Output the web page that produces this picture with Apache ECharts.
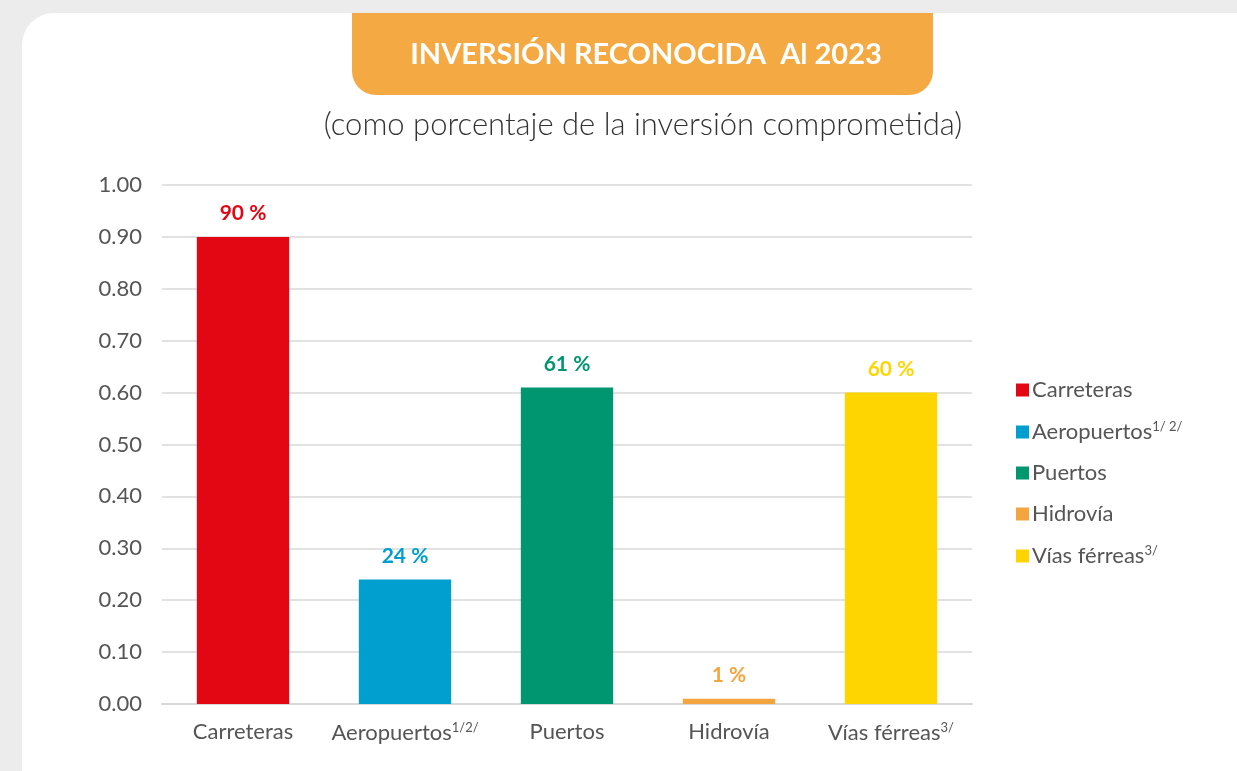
<!DOCTYPE html>
<html>
<head>
<meta charset="utf-8">
<title>Inversión reconocida</title>
<script src="https://cdn.jsdelivr.net/npm/echarts@6/dist/echarts.min.js"></script>
<style>
  html, body { margin: 0; padding: 0; background: #ececec; }
  #main { width: 1237px; height: 771px; }
</style>
</head>
<body>
<div id="main"></div>
<script>
// datos
var categories = ['Carreteras', 'Aeropuertos', 'Puertos', 'Hidrovía', 'Vías férreas'];
var axisSup = ['', '1/2/', '', '', '3/'];
var legendSup = ['', '1/ 2/', '', '', '3/'];
var values = [0.90, 0.24, 0.61, 0.01, 0.60];
var pctLabels = ['90 %', '24 %', '61 %', '1 %', '60 %'];
var colors = ['#e30613', '#009fcf', '#009670', '#f5a540', '#ffd500'];
var yTicks = [0, 0.1, 0.2, 0.3, 0.4, 0.5, 0.6, 0.7, 0.8, 0.9, 1.0];

var font = 'Lato';
var chart = echarts.init(document.getElementById('main'));

var supStyle = { fontSize: 13, verticalAlign: 'top', padding: [0, 0, 11, 0], color: '#555555', fontFamily: font };

var series = categories.map(function (name, i) {
  var data = categories.map(function (c, j) { return j === i ? values[i] : null; });
  return {
    name: name,
    type: 'bar',
    stack: 'a',
    barWidth: '57%',
    itemStyle: { color: colors[i] },
    label: {
      show: true,
      position: 'top',
      distance: 13,
      color: colors[i],
      fontFamily: font,
      fontWeight: 'bold',
      fontSize: 21,
      formatter: function () { return pctLabels[i]; }
    },
    data: data
  };
});

var option = {
  backgroundColor: '#ececec',
  animation: false,
  graphic: [
    { type: 'rect', z: -10, shape: { x: 22, y: 13, width: 1260, height: 800, r: 32 }, style: { fill: '#ffffff' } },
    { type: 'rect', z: -5, shape: { x: 352, y: 13, width: 581, height: 82, r: [0, 0, 24, 24] }, style: { fill: '#f5a942' } },
    { type: 'text', z: 5, x: 646, y: 55,
      style: { text: 'INVERSIÓN RECONOCIDA  Al 2023', fill: '#ffffff', font: 'bold 29px ' + font, align: 'center', verticalAlign: 'middle' } },
    { type: 'text', z: 5, x: 643, y: 125,
      style: { text: '(como porcentaje de la inversión comprometida)', fill: '#333333', font: '300 31px ' + font, align: 'center', verticalAlign: 'middle' } }
  ],
  legend: {
    orient: 'vertical',
    left: 1011,
    top: 374,
    itemWidth: 13,
    itemHeight: 13,
    itemGap: 19,
    itemStyle: { borderWidth: 0 },
    icon: 'rect',
    data: categories,
    formatter: function (name) {
      var i = categories.indexOf(name);
      return legendSup[i] ? name + '{sup|' + legendSup[i] + '}' : name;
    },
    textStyle: {
      color: '#555555',
      fontFamily: font,
      fontSize: 22,
      padding: [0, 0, 0, -2],
      rich: { sup: supStyle }
    }
  },
  grid: { left: 162, right: 265, top: 185, bottom: 67 },
  xAxis: {
    type: 'category',
    data: categories,
    axisLine: { lineStyle: { color: '#d9d9d9', width: 2 } },
    axisTick: { show: false },
    axisLabel: {
      interval: 0,
      margin: 17,
      color: '#555555',
      fontFamily: font,
      fontSize: 22,
      formatter: function (v, i) { return axisSup[i] ? v + '{sup|' + axisSup[i] + '}' : v; },
      rich: { sup: supStyle }
    }
  },
  yAxis: {
    type: 'value',
    min: yTicks[0],
    max: yTicks[yTicks.length - 1],
    interval: 0.1,
    axisLine: { show: false },
    axisTick: { show: false },
    splitLine: { lineStyle: { color: '#d9d9d9', width: 1.5 } },
    axisLabel: {
      margin: 20,
      color: '#555555',
      fontFamily: font,
      fontSize: 22,
      formatter: function (v) { return v.toFixed(2); }
    }
  },
  series: series
};
chart.setOption(option);
</script>
</body>
</html>
